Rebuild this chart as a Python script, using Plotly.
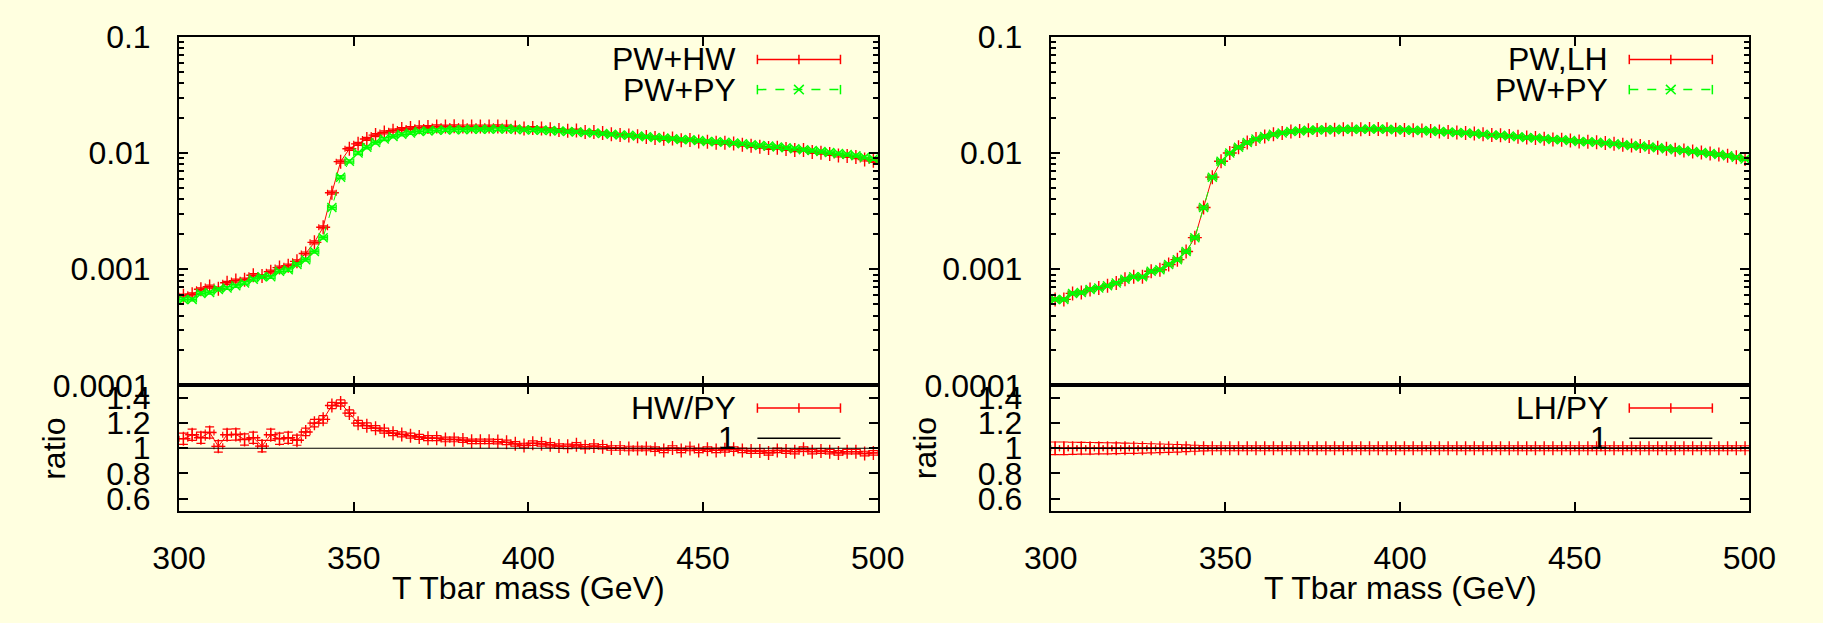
import plotly.graph_objects as go

# ---------------- data ----------------
MASS = [301.25, 303.75, 306.25, 308.75, 311.25, 313.75, 316.25, 318.75, 321.25, 323.75,
        326.25, 328.75, 331.25, 333.75, 336.25, 338.75, 341.25, 343.75, 346.25, 348.75,
        351.25, 353.75, 356.25, 358.75, 361.25, 363.75, 366.25, 368.75, 371.25, 373.75,
        376.25, 378.75, 381.25, 383.75, 386.25, 388.75, 391.25, 393.75, 396.25, 398.75,
        401.25, 403.75, 406.25, 408.75, 411.25, 413.75, 416.25, 418.75, 421.25, 423.75,
        426.25, 428.75, 431.25, 433.75, 436.25, 438.75, 441.25, 443.75, 446.25, 448.75,
        451.25, 453.75, 456.25, 458.75, 461.25, 463.75, 466.25, 468.75, 471.25, 473.75,
        476.25, 478.75, 481.25, 483.75, 486.25, 488.75, 491.25, 493.75, 496.25, 498.75]
BIN_HALF_WIDTH = 1.25

PW_PY = [0.00055, 0.00055, 0.00062, 0.00063, 0.00067, 0.00069, 0.00072, 0.00076, 0.00082, 0.00086,
         0.00086, 0.00096, 0.00099, 0.00110, 0.00121, 0.00142, 0.00187, 0.00340, 0.00620, 0.00850,
         0.01000, 0.01120, 0.01230, 0.01320, 0.01390, 0.01450, 0.01490, 0.01530, 0.01550, 0.01570,
         0.01580, 0.01590, 0.01590, 0.01600, 0.01600, 0.01600, 0.01610, 0.01610, 0.01600, 0.01590,
         0.01580, 0.01570, 0.01560, 0.01550, 0.01530, 0.01520, 0.01500, 0.01490, 0.01470, 0.01450,
         0.01430, 0.01420, 0.01400, 0.01380, 0.01360, 0.01350, 0.01330, 0.01310, 0.01300, 0.01280,
         0.01260, 0.01250, 0.01240, 0.01220, 0.01200, 0.01180, 0.01160, 0.01150, 0.01130, 0.01110,
         0.01090, 0.01070, 0.01050, 0.01030, 0.01010, 0.00990, 0.00970, 0.00950, 0.00920, 0.00890]

PW_HW = [0.000592, 0.000609, 0.000672, 0.000709, 0.000680, 0.000765, 0.000799, 0.000813, 0.000889, 0.000875,
         0.000953, 0.001033, 0.001073, 0.001170, 0.001367, 0.001704, 0.00230, 0.00456, 0.00843, 0.01088,
         0.01200, 0.01322, 0.01427, 0.01505, 0.01557, 0.01610, 0.01639, 0.01668, 0.01674, 0.01696,
         0.01691, 0.01701, 0.01693, 0.01688, 0.01688, 0.01688, 0.01695, 0.01686, 0.01656, 0.01625,
         0.01643, 0.01625, 0.01602, 0.01576, 0.01553, 0.01561, 0.01518, 0.01515, 0.01488, 0.01453,
         0.01433, 0.01417, 0.01397, 0.01377, 0.01350, 0.01327, 0.01333, 0.01288, 0.01297, 0.01258,
         0.01251, 0.01229, 0.01225, 0.01211, 0.01180, 0.01154, 0.01134, 0.01107, 0.01111, 0.01086,
         0.01061, 0.01063, 0.01022, 0.01007, 0.00983, 0.00953, 0.00944, 0.00924, 0.00881, 0.00857]

PW_LH = [0.00055, 0.00055, 0.00062, 0.00063, 0.00067, 0.00069, 0.00072, 0.00076, 0.00082, 0.00086,
         0.00086, 0.00096, 0.00099, 0.00110, 0.00121, 0.00142, 0.00187, 0.00340, 0.00620, 0.00850,
         0.01000, 0.01120, 0.01230, 0.01320, 0.01390, 0.01450, 0.01490, 0.01530, 0.01550, 0.01570,
         0.01580, 0.01590, 0.01590, 0.01600, 0.01600, 0.01600, 0.01610, 0.01610, 0.01600, 0.01590,
         0.01580, 0.01570, 0.01560, 0.01550, 0.01530, 0.01520, 0.01500, 0.01490, 0.01470, 0.01450,
         0.01430, 0.01420, 0.01400, 0.01380, 0.01360, 0.01350, 0.01330, 0.01310, 0.01300, 0.01280,
         0.01260, 0.01250, 0.01240, 0.01220, 0.01200, 0.01180, 0.01160, 0.01150, 0.01130, 0.01110,
         0.01090, 0.01070, 0.01050, 0.01030, 0.01010, 0.00990, 0.00970, 0.00950, 0.00920, 0.00890]

MAIN_REL_ERR_PCT = 3.0

HW_PY_RATIO = [1.076, 1.108, 1.084, 1.126, 1.015, 1.108, 1.110, 1.070, 1.084, 1.017,
               1.108, 1.076, 1.084, 1.064, 1.130, 1.200, 1.230, 1.340, 1.360, 1.280,
               1.200, 1.180, 1.160, 1.140, 1.120, 1.110, 1.100, 1.090, 1.080, 1.080,
               1.070, 1.070, 1.065, 1.055, 1.055, 1.055, 1.053, 1.047, 1.035, 1.022,
               1.040, 1.035, 1.027, 1.017, 1.015, 1.027, 1.012, 1.017, 1.012, 1.002,
               1.002, 0.998, 0.998, 0.998, 0.993, 0.983, 1.002, 0.983, 0.998, 0.983,
               0.993, 0.983, 0.988, 0.993, 0.983, 0.978, 0.978, 0.963, 0.983, 0.978,
               0.973, 0.993, 0.973, 0.978, 0.973, 0.963, 0.973, 0.973, 0.958, 0.963]
HW_PY_ERR = [0.045, 0.045, 0.045, 0.045, 0.045, 0.045, 0.045, 0.045, 0.045, 0.045,
             0.045, 0.045, 0.045, 0.040, 0.030, 0.030, 0.030, 0.025, 0.025, 0.025,
             0.022, 0.022, 0.020, 0.020, 0.020, 0.020, 0.020, 0.020, 0.020, 0.020,
             0.018, 0.018, 0.018, 0.018, 0.018, 0.018, 0.018, 0.018, 0.018, 0.018,
             0.018, 0.018, 0.018, 0.018, 0.018, 0.018, 0.018, 0.018, 0.018, 0.018,
             0.018, 0.018, 0.018, 0.018, 0.018, 0.018, 0.018, 0.018, 0.018, 0.018,
             0.018, 0.018, 0.018, 0.018, 0.018, 0.018, 0.018, 0.018, 0.018, 0.018,
             0.018, 0.018, 0.018, 0.018, 0.018, 0.018, 0.018, 0.018, 0.018, 0.018]

LH_PY_RATIO = [1.000, 1.000, 1.000, 1.000, 1.000, 1.000, 1.000, 1.000, 1.000, 1.000,
               1.000, 1.000, 1.000, 1.000, 1.000, 1.000, 1.000, 1.000, 1.000, 1.000,
               1.000, 1.000, 1.000, 1.000, 1.000, 1.000, 1.000, 1.000, 1.000, 1.000,
               1.000, 1.000, 1.000, 1.000, 1.000, 1.000, 1.000, 1.000, 1.000, 1.000,
               1.000, 1.000, 1.000, 1.000, 1.000, 1.000, 1.000, 1.000, 1.000, 1.000,
               1.000, 1.000, 1.000, 1.000, 1.000, 1.000, 1.000, 1.000, 1.000, 1.000,
               1.000, 1.000, 1.000, 1.000, 1.000, 1.000, 1.000, 1.000, 1.000, 1.000,
               1.000, 1.000, 1.000, 1.000, 1.000, 1.000, 1.000, 1.000, 1.000, 1.000]
LH_PY_ERR = [0.050, 0.050, 0.048, 0.047, 0.046, 0.045, 0.044, 0.043, 0.041, 0.040,
             0.038, 0.036, 0.034, 0.032, 0.030, 0.027, 0.024, 0.021, 0.020, 0.020,
             0.020, 0.020, 0.020, 0.020, 0.020, 0.020, 0.020, 0.020, 0.020, 0.020,
             0.020, 0.020, 0.020, 0.020, 0.020, 0.020, 0.020, 0.020, 0.020, 0.020,
             0.020, 0.020, 0.020, 0.020, 0.020, 0.020, 0.020, 0.020, 0.020, 0.020,
             0.020, 0.020, 0.020, 0.020, 0.020, 0.020, 0.020, 0.020, 0.020, 0.020,
             0.020, 0.020, 0.020, 0.020, 0.020, 0.020, 0.020, 0.020, 0.020, 0.020,
             0.020, 0.020, 0.020, 0.020, 0.020, 0.020, 0.020, 0.020, 0.020, 0.020]

REF_LINE_X = [300, 500]
REF_LINE_Y = [1, 1]

MAIN_TICKVALS = [0.0001, 0.001, 0.01, 0.1]
MAIN_TICKTEXT = ["0.0001", "0.001", "0.01", "0.1"]
RATIO_TICKVALS = [0.6, 0.8, 1.0, 1.2, 1.4]
RATIO_TICKTEXT = ["0.6", "0.8", "1", "1.2", "1.4"]
X_TICKVALS = [300, 350, 400, 450, 500]
X_TICKTEXT = ["300", "350", "400", "450", "500"]

# ---------------- layout helpers ----------------
W, H = 1823, 623
BG = "#ffffe0"
FONT = "Liberation Sans"
FS = 32
RED = "#ff0000"
GREEN = "#00ff00"


def px(x):
    return x / W


def py(y):
    return 1 - y / H


LX = [px(156.7), px(876.7)]
RX = [px(1055), px(1775)]
MAIN_Y = [py(390), py(20)]
RAT_Y = [py(523.3), py(390)]

fig = go.Figure()


def series(x, y, xa, ya, color, symbol, dash, err_y, size):
    return go.Scatter(
        x=x, y=y, xaxis=xa, yaxis=ya, mode="lines+markers", showlegend=False,
        line=dict(color=color, width=1, dash=dash),
        marker=dict(symbol=symbol, size=size, color=color, line=dict(color=color, width=1.4)),
        error_x=dict(type="constant", value=BIN_HALF_WIDTH, width=3, thickness=1.2, color=color),
        error_y=err_y,
    )


def main_err(c):
    return dict(type="percent", value=MAIN_REL_ERR_PCT, width=4, thickness=1.2, color=c)


# left panel
fig.add_trace(series(MASS, PW_HW, "x", "y", RED, "cross-thin", "solid", main_err(RED), 10))
fig.add_trace(series(MASS, PW_PY, "x", "y", GREEN, "x-thin", "dash", main_err(GREEN), 9))
fig.add_trace(series(MASS, HW_PY_RATIO, "x2", "y2", RED, "cross-thin", "solid",
                     dict(type="data", array=HW_PY_ERR, width=4.5, thickness=1.2, color=RED), 10))
fig.add_trace(go.Scatter(x=REF_LINE_X, y=REF_LINE_Y, xaxis="x2", yaxis="y2", mode="lines",
                         showlegend=False, line=dict(color="black", width=1.2)))
# right panel
fig.add_trace(series(MASS, PW_LH, "x3", "y3", RED, "cross-thin", "solid", main_err(RED), 10))
fig.add_trace(series(MASS, PW_PY, "x3", "y3", GREEN, "x-thin", "dash", main_err(GREEN), 9))
fig.add_trace(series(MASS, LH_PY_RATIO, "x4", "y4", RED, "cross-thin", "solid",
                     dict(type="data", array=LH_PY_ERR, width=4.5, thickness=1.2, color=RED), 10))
fig.add_trace(go.Scatter(x=REF_LINE_X, y=REF_LINE_Y, xaxis="x4", yaxis="y4", mode="lines",
                         showlegend=False, line=dict(color="black", width=1.5)))


def common():
    return dict(showline=True, linecolor="black", linewidth=2, mirror="ticks", ticks="inside",
                ticklen=9, tickwidth=1.5, tickcolor="black", showgrid=False, zeroline=False,
                tickfont=dict(family=FONT, size=FS, color="black"))


MINOR_LOG = [k * 10.0 ** e for e in (-4, -3, -2) for k in range(2, 10)]


def xmain(dom, anchor):
    d = common()
    d.update(domain=dom, anchor=anchor, range=[300, 500], tickmode="array",
             tickvals=X_TICKVALS, showticklabels=False)
    return d


def xrat(dom, anchor):
    d = common()
    d.update(domain=dom, anchor=anchor, range=[300, 500], tickmode="array",
             tickvals=X_TICKVALS, ticktext=X_TICKTEXT, ticklabelstandoff=18)
    return d


def ymain(anchor):
    d = common()
    d.update(domain=MAIN_Y, anchor=anchor, type="log", range=[-4, -1], tickmode="array",
             tickvals=MAIN_TICKVALS, ticktext=MAIN_TICKTEXT, ticklabelstandoff=20,
             minor=dict(ticks="inside", ticklen=5, tickwidth=1.5, tickcolor="black",
                        tickmode="array", tickvals=MINOR_LOG, showgrid=False))
    return d


def yrat(anchor):
    d = common()
    d.update(domain=RAT_Y, anchor=anchor, range=[0.5, 1.5], tickmode="array",
             tickvals=RATIO_TICKVALS, ticktext=RATIO_TICKTEXT, ticklabelstandoff=20)
    return d


fig.update_layout(
    width=W, height=H, autosize=False,
    margin=dict(l=0, r=0, t=0, b=0),
    paper_bgcolor=BG, plot_bgcolor=BG,
    font=dict(family=FONT, size=FS, color="black"),
    xaxis=xmain(LX, "y"), yaxis=ymain("x"),
    xaxis2=xrat(LX, "y2"), yaxis2=yrat("x2"),
    xaxis3=xmain(RX, "y3"), yaxis3=ymain("x3"),
    xaxis4=xrat(RX, "y4"), yaxis4=yrat("x4"),
)

# ---------------- axis titles ----------------
ann = []
for cx in (516.7, 1415):
    ann.append(dict(text="T Tbar mass (GeV)", x=px(cx), y=py(605), xref="paper", yref="paper",
                    showarrow=False, xanchor="center", yanchor="middle",
                    font=dict(family=FONT, size=FS, color="black")))
for cx in (27, 925):
    ann.append(dict(text="ratio", x=px(cx), y=py(457), xref="paper", yref="paper",
                    showarrow=False, textangle=-90, xanchor="center", yanchor="middle",
                    font=dict(family=FONT, size=FS, color="black")))

# ---------------- keys (gnuplot style: text right-aligned, sample to the right) ----------------
shapes = []


def key(text_right, line_x0, line_x1, yc, label, color, dash, caps, mid):
    ann.append(dict(text=label, x=px(text_right), y=py(yc), xref="paper", yref="paper",
                    showarrow=False, xanchor="right", yanchor="middle",
                    font=dict(family=FONT, size=FS, color="black")))
    shapes.append(dict(type="line", xref="paper", yref="paper", x0=px(line_x0), x1=px(line_x1),
                       y0=py(yc), y1=py(yc), line=dict(color=color, width=1.5, dash=dash)))
    if caps:
        for xx in (line_x0, line_x1):
            shapes.append(dict(type="line", xref="paper", yref="paper", x0=px(xx), x1=px(xx),
                               y0=py(yc - 5), y1=py(yc + 5), line=dict(color=color, width=1.5)))
    xm = (line_x0 + line_x1) / 2
    if mid == "+":
        shapes.append(dict(type="line", xref="paper", yref="paper", x0=px(xm), x1=px(xm),
                           y0=py(yc - 5), y1=py(yc + 5), line=dict(color=color, width=1.5)))
    elif mid == "x":
        for s in (1, -1):
            shapes.append(dict(type="line", xref="paper", yref="paper", x0=px(xm - 5), x1=px(xm + 5),
                               y0=py(yc - 5 * s), y1=py(yc + 5 * s), line=dict(color=color, width=1.5)))


for off, top1, top2, rat in ((0, "PW+HW", "PW+PY", "HW/PY"), (898.5, "PW,LH", "PW+PY", "LH/PY")):
    tr, l0, l1 = 733 + off, 752.7 + off, 838.3 + off
    key(tr, l0, l1, 44, top1, RED, "solid", True, "+")
    key(tr, l0, l1, 76, top2, GREEN, "dash", True, "x")
    key(tr, l0, l1, 414, rat, RED, "solid", True, "+")
    key(tr, l0, l1, 446, "1", "black", "solid", False, None)

fig.update_layout(annotations=ann, shapes=shapes)
fig.write_html("out.html")
